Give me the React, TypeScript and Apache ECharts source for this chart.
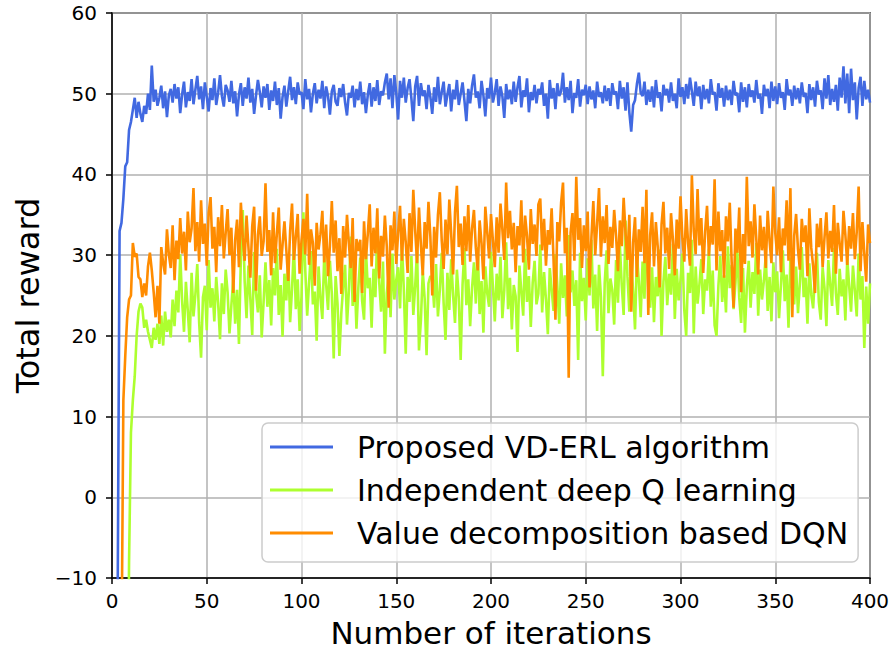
import React, { useEffect, useRef } from "react";
import * as echarts from "echarts";

const seriesNames = [
  "Proposed VD-ERL algorithm",
  "Independent deep Q learning",
  "Value decomposition based DQN",
];
const xTicks = [0, 50, 100, 150, 200, 250, 300, 350, 400];

const vdErl = [
  -40, -40, -40, -12, 33,
  34, 37, 41, 41.5, 45.5,
  46.5, 48, 49.5, 47, 49,
  47.5, 46.5, 48.5, 47.5, 50,
  48, 53.5, 49, 50.5, 48.5,
  49.5, 51, 48.2, 50.3, 47.1, 49.8, 50.6, 48.9, 51.2, 49.4, 50.8, 47.6, 49.9, 51.5, 48.3, 50.2, 49.1, 51.8, 48.7, 50.5,
  52.2, 49.3, 50.9, 48.1, 51.4, 49.6, 47.8, 50.7, 49.2, 51.9, 48.6, 50.1, 52.3, 49.7, 48.4, 51.1, 50.4, 49, 51.6, 48.8,
  50.3, 47.2, 49.9, 51.3, 48.5, 50.8, 49.4, 52, 48.9, 50.6, 47.5, 49.8, 51.7, 50.2, 48.3, 50.9, 49.5, 51.2, 48, 50.4,
  49.1, 51.5, 48.6, 50.7, 46.9, 49.6, 51, 48.4, 50.3, 52.1, 49.2, 50.8, 48.7, 51.4, 49.9, 50.2, 48.1, 51.8, 49.3, 50.6,
  47.7, 50, 51.3, 48.8, 50.5, 49.4, 51.6, 48.2, 50.9, 49.7, 47.4, 50.3, 51.1, 49, 48.5, 50.7, 49.6, 51.2, 48.9, 47.3,
  50.1, 49.5, 51, 48.3, 50.6, 49.2, 51.5, 48.7, 50.2, 47.6, 49.9, 51.3, 48.4, 50.8, 49.1, 51.7, 48.6, 50.3, 49.8, 51.4,
  52.5, 49.3, 51.9, 48.2, 52.3, 50.1, 46.8, 51.6, 49.5, 52, 48.9, 50.7, 51.8, 49.4, 46.6, 50.9, 52.2, 48.5, 51.3, 49.7,
  50.4, 48.1, 51.1, 49.6, 47.5, 50.8, 49, 52.1, 48.7, 50.2, 51.5, 48.4, 49.9, 51.2, 47.8, 50.5, 49.3, 51.7, 48.6, 50,
  51.4, 49.1, 46.6, 50.6, 48.8, 51, 52.4, 49.5, 50.3, 48.2, 51.6, 49.8, 47.2, 50.7, 49.4, 52, 48.9, 50.1, 51.8, 48.5,
  50.9, 49.7, 47, 51.2, 49.3, 50.5, 48.7, 51.5, 49, 50.8, 52.2, 48.3, 50.4, 49.6, 51.9, 47.7, 50.2, 49.2, 51.1, 48.8,
  50.6, 49.9, 51.4, 48.5, 50, 46.9, 51.7, 49.4, 50.7, 48.1, 51.3, 49.7, 50.3, 52.6, 48.9, 50.8, 49.2, 51.6, 47.6, 50.1,
  49.5, 51.8, 48.4, 50.5, 49.8, 51.1, 48.7, 50.9, 49.3, 50.4, 48.2, 51.5, 49.6, 50.2, 48.8, 51, 49.1, 50.7, 48.5, 51.3,
  49.9, 50.3, 48.1, 51.6, 49.4, 50.8, 47.9, 51.4, 47.7, 45.3, 48.6, 49.2, 51.2, 52.6, 50.1, 49.7, 51.5, 48.6, 50.5, 49,
  50.9, 48.3, 51.7, 49.5, 50.2, 47.8, 51.1, 49.8, 50.6, 48.9, 51.4, 49.1, 50, 48.2, 51.9, 49.6, 50.8, 48.7, 51.2, 49.4,
  52, 50.3, 48.5, 51.5, 49.7, 50.9, 48.1, 51.1, 49.3, 50.6, 48.8, 51.8, 49.9, 50.2, 47.9, 51.3, 49.5, 50.7, 48.4, 51,
  49.2, 50.5, 48.6, 51.6, 49.8, 50.1, 47.7, 51.4, 49, 50.8, 48.3, 51.2, 49.6, 50.4, 48.9, 51.7, 49.4, 50, 47.5, 51.1,
  49.7, 50.6, 48.2, 51.5, 49.1, 50.9, 48.7, 51.3, 49.5, 50.2, 48, 51.8, 49.8, 50.5, 48.5, 51, 49.3, 50.7, 48.8, 51.4,
  49.6, 50.1, 47.6, 51.2, 49.2, 50.8, 48.4, 51.6, 49.9, 50.4, 48.1, 51.9, 49.4, 52.3, 48.6, 50.6, 49, 51.1, 47.9, 52,
  49.5, 53.4, 48.8, 52.5, 47.6, 53.1, 49.2, 51.4, 46.8, 50.7, 52.1, 48.5, 51.6, 49.3, 50.5, 48.9,
];

const independentDqn = [
  -40, -40, -40, -40, -40, -40, -40, -40, -40, -8, 8, 12, 15, 20, 23, 24, 23.5, 21, 22, 20.5,
  19.5, 18.5, 21, 19.5, 21.5, 19, 22.5, 18.8, 23, 20.5, 22,
  19.8, 24.5, 21.2, 25.6, 22.9, 30.1, 24.3, 20.5, 26.7, 23.1, 19.2, 27.8, 22.4, 25.1, 28.9, 21.6, 17.3, 24.8, 26.2, 20.7,
  29.4, 23.5, 25.9, 21.8, 27.3, 24.1, 19.6, 26.5, 22.7, 28.2, 25.4, 20.3, 23.8, 27.1, 21.5, 25.7, 19, 29.6, 35.6, 26.8,
  22.2, 28.7, 24.6, 20.1, 30.4, 25.3, 22.9, 27.5, 19.8, 24.2, 29.1, 23.6, 26.9, 21.3, 28.4, 25, 30.8, 22.6, 26.3, 19.9,
  27.7, 24.4, 29.8, 21.7, 25.8, 31.2, 23.3, 27, 20.6, 24.9, 35.3, 28.1, 22.5, 26.6, 30.5, 23.9, 25.5, 19.4, 28.6, 24.7,
  22.1, 30, 26.4, 23.2, 29.3, 25.2, 17.2, 27.4, 24, 17.5, 22.8, 26.1, 28.8, 21.4, 25.6, 32.3, 23.7, 27.9, 20.9, 26,
  29.7, 24.3, 22, 30.6, 25.9, 27.2, 21, 28.3, 24.8, 33.1, 26.7, 23, 29.2, 17.8, 25.3, 27.6, 22.3, 30.2, 24.5, 26.9,
  28.5, 23.4, 31.4, 25.8, 17.8, 27.3, 24.2, 29.9, 22.6, 26.2, 30.7, 18.2, 21.9, 28, 24.6, 17.6, 26.5, 27.4, 27.1, 23.5,
  28.9, 22.4, 25.7, 30.3, 24.1, 19.5, 27.8, 23.2, 29.5, 25, 21.6, 28.2, 24.7, 17, 26.4, 30.9, 23.8, 27, 21.2, 25.9,
  29.1, 24, 31, 22.7, 26.8, 20.4, 28.6, 25.3, 23.6, 30.4, 26.1, 21.8, 27.7, 24.4, 29.8, 22.2, 25.6, 31.6, 23.3, 27.2,
  20.8, 26.3, 24.9, 18, 28.7, 25.5, 22.5, 30.8, 24.2, 27.4, 21.1, 26.6, 29.3, 23.9, 25.2, 31.3, 22.9, 27.9, 24.5, 20.2,
  28.4, 25.8, 23.1, 30.1, 26.2, 21.5, 29, 24.7, 27.5, 22.4, 32.5, 25.4, 28.1, 23.7, 26.9, 17, 30.3, 24.3, 27.2, 21.9,
  29.6, 25, 31.9, 23.4, 27.6, 20.6, 28.8, 24.8, 15, 26.5, 30.6, 22.8, 27.1, 25.7, 21.4, 29.4, 24.1, 31.2, 26.3, 22.6,
  34.3, 27.4, 23, 28.9, 25.5, 20.8, 30, 26.8, 22.3, 29.2, 24.6, 34, 26, 23.5, 28.5, 21.7, 27.3, 24.9, 30.7, 20,
  26.7, 29.8, 23.8, 27.7, 25.1, 31.4, 22.1, 28.3, 24.4, 26.9, 30.2, 23.2, 20, 27.8, 25.3, 31.9, 20.3, 28.6, 24, 26.4,
  29.5, 22.7, 27, 25.6, 30.8, 23.6, 28.1, 21.3, 20, 26.2, 29.9, 24.2, 27.5, 22.9, 31.1, 25.9, 28.8, 23.3, 26.6, 30.4,
  24.7, 21.6, 28.4, 20.4, 26.1, 29.3, 23.5, 27.9, 25.2, 31.5, 22.5, 28.2, 24.5, 26.8, 30, 23.1, 27.3, 21.8, 29.1, 25.4,
  28, 22.2, 26.3, 30.6, 24.3, 27.6, 21, 29.7, 25.8, 23.9, 28.6, 22.8, 26.5, 31, 24.8, 27.2, 21.5, 29, 25.1, 23.4,
  27.8, 30.3, 24.2, 22, 28.5, 25.9, 21.2, 29.4, 26.4, 23.7, 30.9, 25.3, 22.6, 28.3, 24.9, 27, 21.9, 29.6, 26.2, 23,
  28.7, 25.6, 22.4, 30.2, 24.5, 27.4, 18.5, 26.1, 21.5, 26.5,
];

const valueDecompDqn = [
  -40, -40, -40, -40, -40, -20, 12, 17.5, 22.3, 24.5, 25, 31.5, 29.8, 30.2, 27.3, 27, 24.8, 26.5, 25, 28.6,
  30.3, 28.1, 25.4, 22.3, 26.2, 21.5, 31, 29, 27.6, 33.2, 30.1,
  28.4, 33.7, 26.9, 31.8, 29.5, 34.6, 30.2, 32.9, 28.1, 35.4, 31.6, 33.3, 38.3, 30.5, 34.1, 29.2, 36.8, 31.4, 33.9, 28.7,
  35.2, 37.2, 30.8, 33.5, 27.9, 34.7, 31.1, 36.2, 29.6, 32.8, 35.7, 30, 33.4, 25.3, 31.9, 34.4, 28.5, 36.5, 32.2, 29.3,
  34.9, 31, 27.2, 33.6, 36, 25.6, 32.5, 34.8, 29.9, 31.7, 38.9, 30.4, 33.1, 27.5, 35.3, 29, 32.7, 35.9, 28.2, 31.3,
  34.2, 30.6, 26.8, 33, 36.4, 29.4, 32.3, 35.1, 27.7, 31.8, 34.5, 30.1, 37.6, 28.8, 33.2, 31.5, 26.2, 34, 30.7, 32.6,
  35.5, 29.1, 33.8, 27.4, 31.2, 36.7, 30.3, 34.3, 28, 32.1, 25.2, 33.6, 29.7, 35, 31.4, 28.4, 34.6, 24.2, 32, 30.5,
  31.9, 25.3, 34.2, 29.5, 32.7, 36.3, 28.6, 33.4, 30.2, 35.8, 27.1, 32.4, 29.8, 34.9, 31.1, 23.5, 33.7, 30.6, 35.4, 28.9,
  32.8, 36.1, 29.3, 34.5, 31.6, 27.8, 35.2, 30.4, 38.1, 33, 29, 35.9, 31.3, 27.5, 34.1, 30.8, 36.6, 32.3, 25, 33.5,
  29.7, 35, 37.8, 31.8, 28.3, 34.4, 30.1, 36.9, 32.6, 27.6, 35.3, 38.6, 31, 33.9, 28.8, 34.8, 30.5, 36.2, 29.2, 33.3,
  35.6, 30.9, 28.1, 34.3, 31.5, 27, 36, 32.9, 29.6, 35.1, 31.8, 28.5, 34.7, 30.3, 36.4, 33.2, 29.4, 39, 32.1, 35.5,
  30.7, 34, 27.9, 33.6, 31.2, 36.8, 29.1, 34.9, 32.4, 28.2, 35.7, 31.4, 33.8, 29.9, 36.3, 37, 30.6, 34.5, 28.7, 33.1,
  31.3, 35.8, 29.5, 22, 34.1, 31.7, 36.5, 39, 30.2, 33.4, 14.8, 32.8, 35.2, 29.3, 39.7, 31.9, 34.6, 28.4, 33.7, 30.5,
  35.4, 26, 32.2, 36.7, 30, 33.9, 38.3, 29.8, 34.8, 31.5, 36.2, 28.9, 33.5, 30.9, 35.6, 32.4, 28, 34.3, 31.1, 37.1,
  32.7, 29.4, 35, 23, 31.6, 34.7, 27.3, 33.2, 30.4, 36, 29, 38.1, 22.6, 32.5, 35.3, 28.6, 34.1, 31, 26, 33.8,
  36.6, 30.2, 33.4, 28.3, 35.2, 31.9, 27.5, 34.4, 30.8, 37.3, 32.1, 29.2, 35.7, 31.5, 28.7, 39.9, 33, 30.1, 38.2, 31.2,
  34.6, 27.8, 32.9, 36.1, 29.9, 33.6, 31.3, 39.4, 28.1, 35.4, 30.5, 33.1, 27.2, 34.8, 31.7, 36.5, 29.1, 23.5, 33.3, 30.3,
  35.9, 25.4, 32.6, 28.9, 39.7, 31.1, 34.2, 29.7, 36.3, 32, 27.6, 34.9, 30.6, 33.5, 28.4, 35.5, 31.8, 29, 38.5, 32.8,
  30, 34.7, 27.9, 33.3, 31.2, 36.8, 29.3, 38.3, 22.3, 32.4, 35.1, 30.7, 28.2, 34.5, 31.6, 33.7, 27.4, 35.8, 30.9, 28.6,
  25.3, 33.9, 31, 34.6, 28.5, 32.2, 35.3, 29.6, 33, 30.4, 36.2, 27.7, 34, 31.4, 29.2, 35.5, 32.5, 28.8, 33.6, 30.8,
  35.2, 29.5, 32.9, 38.5, 28, 34.1, 30.2, 26.7, 33.8, 31.5,
];

const colors = ["#4169E1", "#ADFF2F", "#FF8C00"];
const FONT = "DejaVu Sans";

export default function App() {
  const ref = useRef<HTMLDivElement>(null);
  useEffect(() => {
    if (!ref.current) return;
    const chart = echarts.init(ref.current, null, { renderer: "svg" });
    const allData = [vdErl, independentDqn, valueDecompDqn];
    chart.setOption({
      animation: false,
      backgroundColor: "#fff",
      grid: {
        left: 112,
        top: 13,
        right: 23,
        bottom: 72,
        outerBoundsMode: "none",
        containLabel: false,
        show: true,
        borderColor: "#000",
        borderWidth: 1.5,
        backgroundColor: "transparent",
      },
      legend: {
        data: seriesNames,
        orient: "vertical",
        left: 262,
        top: 423,
        icon: "rect",
        itemWidth: 63,
        itemHeight: 3,
        itemGap: 9,
        padding: [7, 10, 12, 8],
        borderColor: "#cccccc",
        borderWidth: 1.5,
        borderRadius: 6,
        backgroundColor: "rgba(255,255,255,0.8)",
        textStyle: {
          fontFamily: FONT,
          fontSize: 30,
          color: "#000",
          lineHeight: 34,
          padding: [0, 0, 0, 19],
        },
      },
      xAxis: {
        type: "value",
        min: xTicks[0],
        max: xTicks[xTicks.length - 1],
        interval: 50,
        name: "Number of iterations",
        nameLocation: "middle",
        nameGap: 39,
        nameTextStyle: { fontFamily: FONT, fontSize: 31, color: "#000", lineHeight: 31 },
        axisLine: { show: true, onZero: false, lineStyle: { color: "#000", width: 1.5 } },
        axisTick: { show: true, inside: false, length: 6, lineStyle: { color: "#000", width: 1.5 } },
        axisLabel: { fontFamily: FONT, fontSize: 20, color: "#000", margin: 13 },
        splitLine: { show: true, lineStyle: { color: "#b0b0b0", width: 1.5 } },
      },
      yAxis: {
        type: "value",
        min: -10,
        max: 60,
        interval: 10,
        name: "Total reward",
        nameLocation: "middle",
        nameGap: 63,
        nameTextStyle: { fontFamily: FONT, fontSize: 32, color: "#000" },
        axisLine: { show: true, onZero: false, lineStyle: { color: "#000", width: 1.5 } },
        axisTick: { show: true, inside: false, length: 6, lineStyle: { color: "#000", width: 1.5 } },
        axisLabel: {
          fontFamily: FONT,
          fontSize: 20,
          color: "#000",
          margin: 15,
          formatter: (v: number) => String(v).replace("-", "\u2212"),
        },
        splitLine: { show: true, lineStyle: { color: "#b0b0b0", width: 1.5 } },
      },
      series: seriesNames.map((name, k) => ({
        name,
        type: "line",
        data: allData[k].map((v, i) => [i, v]),
        showSymbol: false,
        symbol: "none",
        clip: true,
        lineStyle: { color: colors[k], width: 2.6 },
        itemStyle: { color: colors[k] },
        z: 2 + k,
      })),
    });
    return () => chart.dispose();
  }, []);
  return (
    <div
      ref={ref}
      style={{ position: "absolute", left: 0, top: 0, width: 893, height: 650 }}
    />
  );
}
